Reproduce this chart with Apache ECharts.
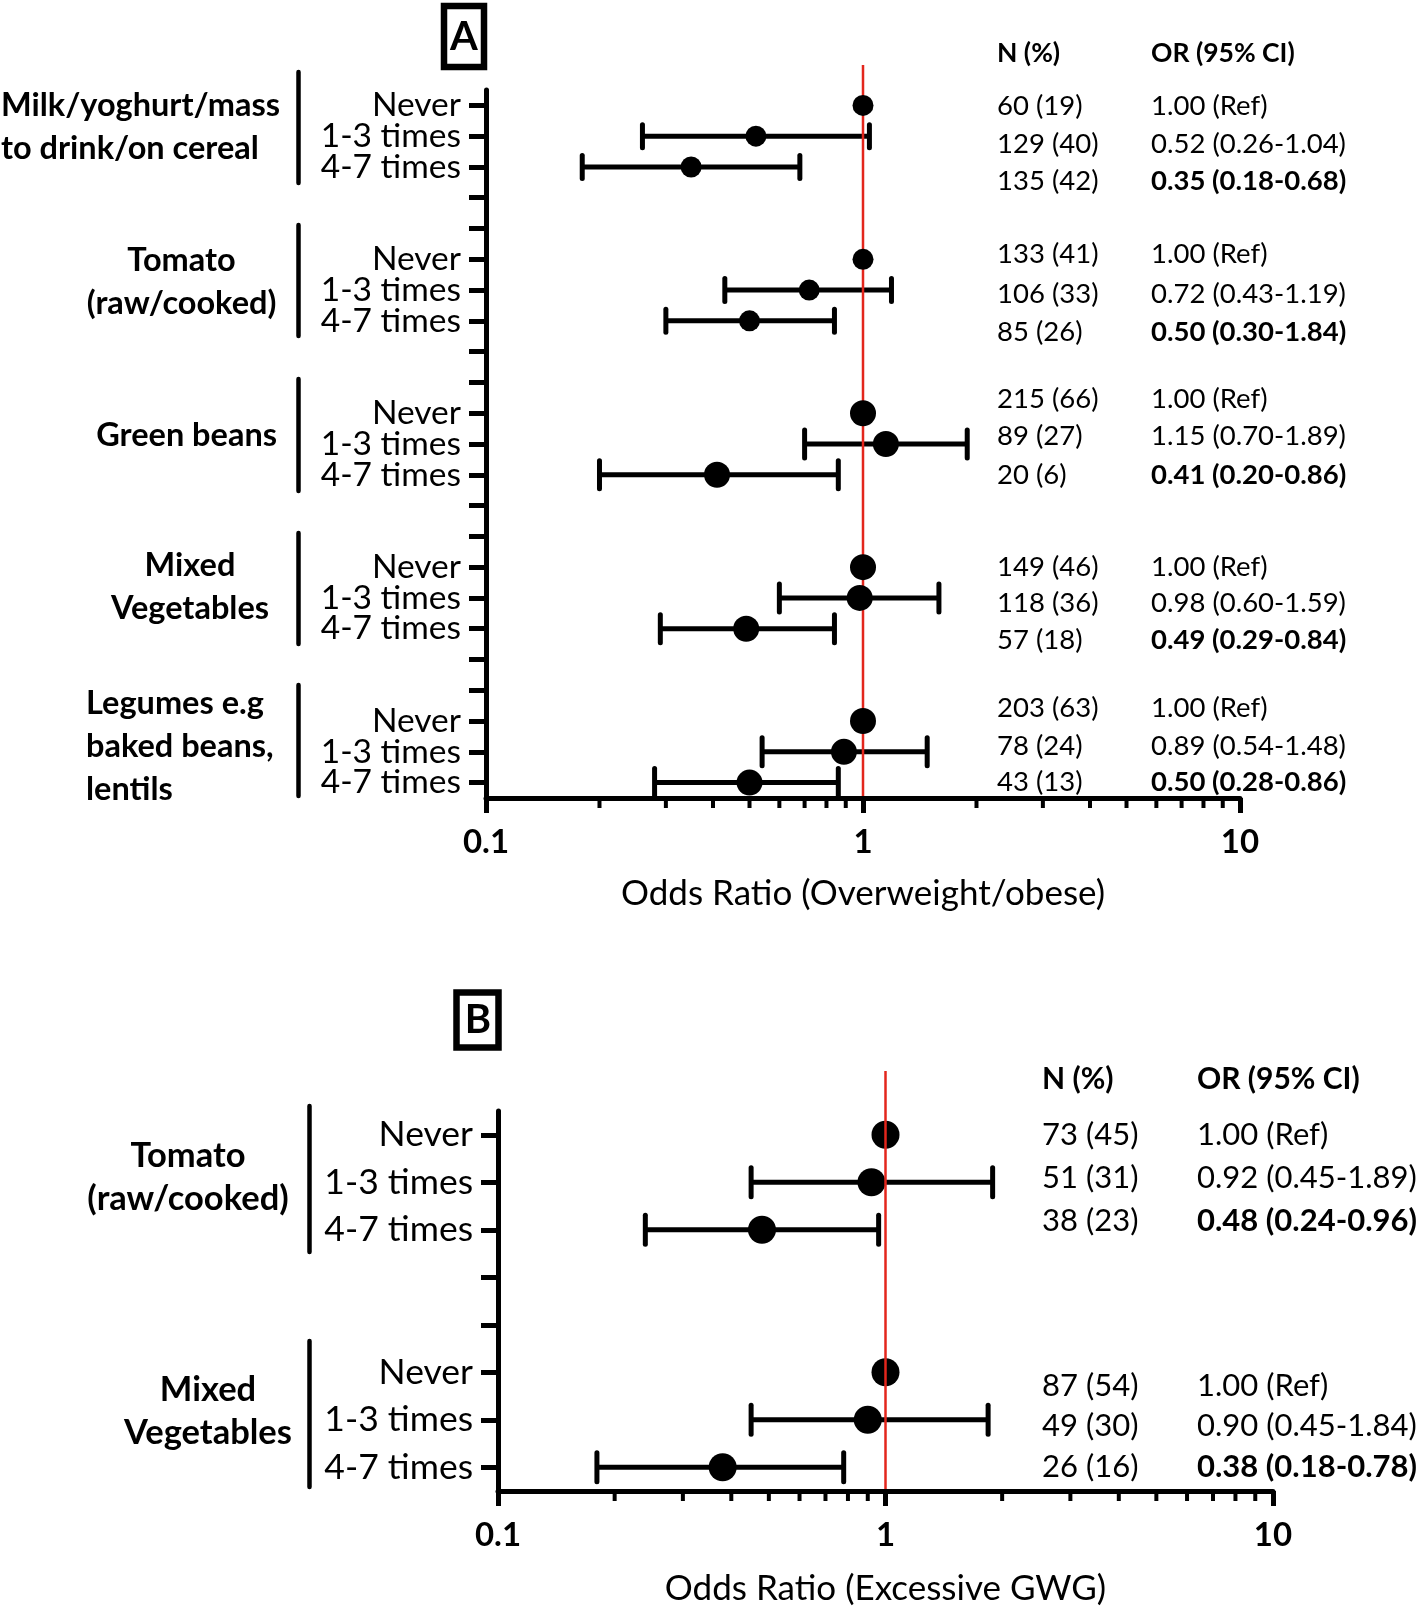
<!DOCTYPE html>
<html>
<head>
<meta charset="utf-8">
<script src="https://cdn.jsdelivr.net/npm/echarts@6/dist/echarts.min.js"></script>
<style>
html,body{margin:0;padding:0;background:#fff;}
#chart{width:1418px;height:1608px;}
</style>
</head>
<body>
<div id="chart"></div>
<script>
// ---------------- DATA ----------------
const frequencies = ['Never', '1-3 times', '4-7 times'];

// Panel A : Odds Ratio (Overweight/obese)
const groupsA = ['Milk/yoghurt/mass\nto drink/on cereal', 'Tomato\n(raw/cooked)', 'Green beans', 'Mixed\nVegetables', 'Legumes e.g\nbaked beans,\nlentils'];
const orA   = [1.00, 0.52, 0.35,  1.00, 0.72, 0.50,  1.00, 1.15, 0.41,  1.00, 0.98, 0.49,  1.00, 0.89, 0.50];
const lowA  = [null, 0.26, 0.18,  null, 0.43, 0.30,  null, 0.70, 0.20,  null, 0.60, 0.29,  null, 0.54, 0.28];
const highA = [null, 1.04, 0.68,  null, 1.19, 0.84,  null, 1.89, 0.86,  null, 1.59, 0.84,  null, 1.48, 0.86];
const nPctA = ['60 (19)', '129 (40)', '135 (42)', '133 (41)', '106 (33)', '85 (26)', '215 (66)', '89 (27)', '20 (6)', '149 (46)', '118 (36)', '57 (18)', '203 (63)', '78 (24)', '43 (13)'];
const ciTextA = ['1.00 (Ref)', '0.52 (0.26-1.04)', '0.35 (0.18-0.68)',
                 '1.00 (Ref)', '0.72 (0.43-1.19)', '0.50 (0.30-1.84)',
                 '1.00 (Ref)', '1.15 (0.70-1.89)', '0.41 (0.20-0.86)',
                 '1.00 (Ref)', '0.98 (0.60-1.59)', '0.49 (0.29-0.84)',
                 '1.00 (Ref)', '0.89 (0.54-1.48)', '0.50 (0.28-0.86)'];
const significantA = [false, false, true, false, false, true, false, false, true, false, false, true, false, false, true];

// Panel B : Odds Ratio (Excessive GWG)
const groupsB = ['Tomato\n(raw/cooked)', 'Mixed\nVegetables'];
const orB   = [1.00, 0.92, 0.48,  1.00, 0.90, 0.38];
const lowB  = [null, 0.45, 0.24,  null, 0.45, 0.18];
const highB = [null, 1.89, 0.96,  null, 1.84, 0.78];
const nPctB = ['73 (45)', '51 (31)', '38 (23)', '87 (54)', '49 (30)', '26 (16)'];
const ciTextB = ['1.00 (Ref)', '0.92 (0.45-1.89)', '0.48 (0.24-0.96)', '1.00 (Ref)', '0.90 (0.45-1.84)', '0.38 (0.18-0.78)'];
const significantB = [false, false, true, false, false, true];

const tableHeaders = ['N (%)', 'OR (95% CI)'];
const axisNames = ['Odds Ratio (Overweight/obese)', 'Odds Ratio (Excessive GWG)'];
const panelLetters = ['A', 'B'];
const minorTickValues = [0.2, 0.3, 0.4, 0.5, 0.6, 0.7, 0.8, 0.9, 2, 3, 4, 5, 6, 7, 8, 9];
const refValue = 1;

// ---------------- LAYOUT / STYLE ----------------
const FONT = 'Lato';
const GAP_ROWS = 2;
const layoutA = {
  grid: {left: 486, top: 90, width: 754, height: 708},
  labelFont: 33.5, xLabelFont: 33, xLabelMargin: 28, nameFont: 35, nameGap: 78,
  marker: [21, 21, 26, 26, 26], cap: [11.5, 11.5, 14, 14, 14],
  refExt: 25, refOnTop: false,
  table: {nX: 997, orX: 1151, headerY: 53, font: 27.5, headerFont: 26.5,
          rowY: [106.6, 144.2, 181, 254, 294, 332, 399, 436, 475, 567, 603.6, 640.5, 708.6, 746.2, 782.4]},
  groupLabels: [
    {x: 1, y: 105.6, align: 'left'}, {x: 181.5, y: 260.4, align: 'center'}, {x: 186.6, y: 435.8, align: 'center'},
    {x: 190, y: 566, align: 'center'}, {x: 86, y: 703.4, align: 'left'}],
  groupFont: 32.5, groupLine: 43,
  brackets: {x: 298.5, spans: [[72, 183], [225, 336], [379, 491], [533, 644], [685, 796]]},
  box: {x: 444, y: 6, w: 40, h: 61, letterX: 464, letterY: 37}
};
const layoutB = {
  grid: {left: 498, top: 1111, width: 775, height: 380},
  labelFont: 35.5, xLabelFont: 33, xLabelMargin: 28, nameFont: 35, nameGap: 80,
  marker: [28, 28], cap: [14.5, 14.5],
  refExt: 40, refOnTop: true,
  table: {nX: 1042, orX: 1197, headerY: 1079, font: 31, headerFont: 30,
          rowY: [1135, 1178, 1221, 1386, 1426, 1467]},
  groupLabels: [{x: 188, y: 1155.5, align: 'center'}, {x: 208, y: 1390, align: 'center'}],
  groupFont: 34.5, groupLine: 43,
  brackets: {x: 309.5, spans: [[1106, 1252], [1341, 1487]]},
  box: {x: 456.5, y: 992.5, w: 42, h: 55, letterX: 478, letterY: 1020}
};

// ---------------- BUILD ----------------
function buildRows(nGroups) {
  const rows = [];
  for (let g = 0; g < nGroups; g++) {
    frequencies.forEach(f => rows.push(f));
    if (g < nGroups - 1) for (let k = 0; k < GAP_ROWS; k++) rows.push('');
  }
  return rows;
}
function rowIndex(i) { // i = data index (group*3 + freq)
  const g = Math.floor(i / 3), r = i % 3;
  return g * (3 + GAP_ROWS) + r;
}

const panels = [
  {groups: groupsA, or: orA, low: lowA, high: highA, nPct: nPctA, ci: ciTextA, sig: significantA, L: layoutA},
  {groups: groupsB, or: orB, low: lowB, high: highB, nPct: nPctB, ci: ciTextB, sig: significantB, L: layoutB}
];

const grid = [], xAxis = [], yAxis = [], series = [], graphic = [];

panels.forEach((P, k) => {
  const L = P.L;
  const rows = buildRows(P.groups.length);
  grid.push(Object.assign({containLabel: false}, L.grid));
  xAxis.push({
    gridIndex: k, type: 'log', logBase: 10, min: 0.1, max: 10,
    name: axisNames[k], nameLocation: 'middle', nameGap: L.nameGap,
    nameTextStyle: {fontFamily: FONT, fontSize: L.nameFont, color: '#000'},
    axisLine: {show: true, lineStyle: {color: '#000', width: 5}},
    axisTick: {show: true, length: 15, lineStyle: {color: '#000', width: 5}},
    axisLabel: {fontFamily: FONT, fontWeight: 'bold', fontSize: L.xLabelFont, color: '#000', margin: L.xLabelMargin,
                formatter: v => String(+v.toPrecision(3))},
    splitLine: {show: false}, minorTick: {show: false}
  });
  yAxis.push({
    gridIndex: k, type: 'category', inverse: true,
    data: rows.map((r, i) => i + '|' + r),
    axisLine: {show: true, lineStyle: {color: '#000', width: 5}},
    axisTick: {show: true, alignWithLabel: true, interval: 0, length: 17, lineStyle: {color: '#000', width: 5}},
    axisLabel: {interval: 0, fontFamily: FONT, fontSize: L.labelFont, color: '#000', margin: 25,
                formatter: v => v.split('|')[1]},
    splitLine: {show: false}
  });

  // error bars
  const errData = [];
  P.or.forEach((v, i) => {
    if (P.low[i] != null) errData.push([P.low[i], P.high[i], rowIndex(i), Math.floor(i / 3)]);
  });
  series.push({
    type: 'custom', xAxisIndex: k, yAxisIndex: k, z: 2, clip: false,
    encode: {x: [0, 1], y: 2},
    data: errData,
    renderItem: (params, api) => {
      const y = api.value(2);
      const p1 = api.coord([api.value(0), y]);
      const p2 = api.coord([api.value(1), y]);
      const h = L.cap[api.value(3)];
      const st = {stroke: '#000', lineWidth: 5};
      return {type: 'group', children: [
        {type: 'line', shape: {x1: p1[0], y1: p1[1], x2: p2[0], y2: p2[1]}, style: st},
        {type: 'line', shape: {x1: p1[0], y1: p1[1] - h, x2: p1[0], y2: p1[1] + h}, style: Object.assign({lineCap: 'round'}, st)},
        {type: 'line', shape: {x1: p2[0], y1: p2[1] - h, x2: p2[0], y2: p2[1] + h}, style: Object.assign({lineCap: 'round'}, st)}
      ]};
    }
  });

  // reference line at OR = 1
  series.push({
    type: 'custom', xAxisIndex: k, yAxisIndex: k, z: L.refOnTop ? 5 : 3, clip: false,
    encode: {x: 0, y: 1}, data: [[refValue, 0]],
    renderItem: (params, api) => {
      const p = api.coord([api.value(0), 0]);
      const cs = params.coordSys;
      return {type: 'line', shape: {x1: p[0], y1: cs.y - L.refExt, x2: p[0], y2: cs.y + cs.height - 2},
              style: {stroke: '#e3261c', lineWidth: 2.5}};
    }
  });

  // minor ticks on log axis
  series.push({
    type: 'custom', xAxisIndex: k, yAxisIndex: k, z: 2, clip: false,
    encode: {x: 0, y: 1}, data: minorTickValues.map(v => [v, 0]),
    renderItem: (params, api) => {
      const p = api.coord([api.value(0), 0]);
      const cs = params.coordSys;
      const y0 = cs.y + cs.height;
      return {type: 'line', shape: {x1: p[0], y1: y0, x2: p[0], y2: y0 + 10},
              style: {stroke: '#000', lineWidth: 4}};
    }
  });

  // point estimates
  series.push({
    type: 'scatter', xAxisIndex: k, yAxisIndex: k, z: 4,
    symbol: 'circle',
    itemStyle: {color: '#000', opacity: 1},
    data: P.or.map((v, i) => ({value: [v, rowIndex(i)], symbolSize: L.marker[Math.floor(i / 3)]})),
    silent: true
  });

  // table
  const T = L.table;
  graphic.push({type: 'text', x: T.nX, y: T.headerY,
    style: {text: tableHeaders[0], fontFamily: FONT, fontWeight: 'bold', fontSize: T.headerFont, fill: '#000', align: 'left', verticalAlign: 'middle'}});
  graphic.push({type: 'text', x: T.orX, y: T.headerY,
    style: {text: tableHeaders[1], fontFamily: FONT, fontWeight: 'bold', fontSize: T.headerFont, fill: '#000', align: 'left', verticalAlign: 'middle'}});
  P.nPct.forEach((t, i) => {
    graphic.push({type: 'text', x: T.nX, y: T.rowY[i],
      style: {text: t, fontFamily: FONT, fontSize: T.font, fill: '#000', align: 'left', verticalAlign: 'middle'}});
    graphic.push({type: 'text', x: T.orX, y: T.rowY[i],
      style: {text: P.ci[i], fontFamily: FONT, fontWeight: P.sig[i] ? 'bold' : 'normal', fontSize: T.font, fill: '#000', align: 'left', verticalAlign: 'middle'}});
  });

  // group labels and brackets
  P.groups.forEach((gname, g) => {
    const G = L.groupLabels[g];
    graphic.push({type: 'text', x: G.x, y: G.y - L.groupLine / 2,
      style: {text: gname, fontFamily: FONT, fontWeight: 'bold', fontSize: L.groupFont, lineHeight: L.groupLine,
              fill: '#000', align: G.align, verticalAlign: 'top'}});
    const s = L.brackets.spans[g];
    graphic.push({type: 'line', shape: {x1: L.brackets.x, y1: s[0], x2: L.brackets.x, y2: s[1]},
      style: {stroke: '#000', lineWidth: 4.5, lineCap: 'round'}});
  });

  // panel letter box
  const B = L.box;
  graphic.push({type: 'rect', shape: {x: B.x, y: B.y, width: B.w, height: B.h},
    style: {fill: '#fff', stroke: '#000', lineWidth: 6.5}});
  graphic.push({type: 'text', x: B.letterX, y: B.letterY,
    style: {text: panelLetters[k], fontFamily: FONT, fontWeight: 'bold', fontSize: 40, fill: '#000', align: 'center', verticalAlign: 'middle'}});
});

const chart = echarts.init(document.getElementById('chart'), null, {renderer: 'canvas'});
chart.setOption({
  animation: false,
  backgroundColor: '#fff',
  grid, xAxis, yAxis, series, graphic
});
</script>
</body>
</html>
